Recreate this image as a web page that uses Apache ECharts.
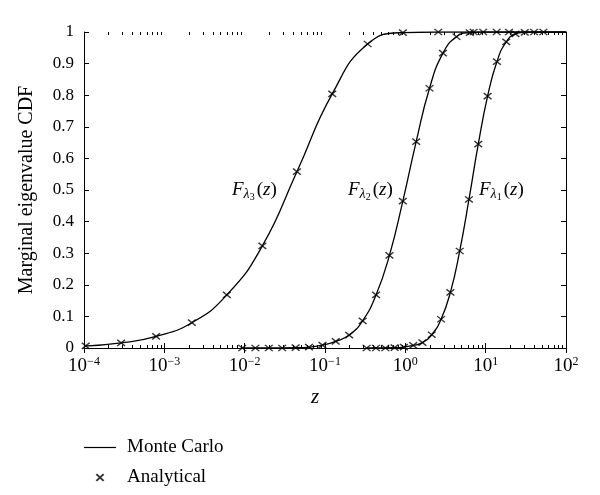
<!DOCTYPE html>
<html>
<head>
<meta charset="utf-8">
<script src="https://cdn.jsdelivr.net/npm/echarts@6/dist/echarts.min.js"></script>
<style>html,body{margin:0;padding:0;background:#fff}#c{width:600px;height:495px}</style>
</head>
<body>
<div id="c"></div>
<script>
// ---- data ----
// Analytical markers
const anZ3 = [1.05e-4, 2.9e-4, 7.9e-4, 2.2e-3, 6.0e-3, 1.66e-2, 4.47e-2, 0.123, 0.339, 0.933, 2.57, 7.08, 19.5];
const anF3 = [0.007, 0.016, 0.037, 0.080, 0.168, 0.323, 0.558, 0.804, 0.962, 0.998, 1.0, 1.0, 1.0];
const anZ2 = [0.00933, 0.0136, 0.0200, 0.0293, 0.0431, 0.0632, 0.0929, 0.136, 0.200, 0.294, 0.432, 0.634, 0.931, 1.365, 2.00, 2.94, 4.33, 6.35, 9.31, 13.7];
const anF2 = [0, 0, 0, 0, 0.001, 0.003, 0.009, 0.021, 0.041, 0.086, 0.168, 0.293, 0.465, 0.653, 0.822, 0.933, 0.985, 0.998, 1.0, 1.0];
const anZ1 = [0.330, 0.431, 0.564, 0.735, 0.959, 1.253, 1.633, 2.133, 2.786, 3.639, 4.753, 6.194, 8.091, 10.57, 13.80, 18.03, 23.50, 30.69, 40.09, 52.36];
const anF1 = [0, 0, 0, 0.001, 0.003, 0.008, 0.017, 0.042, 0.091, 0.176, 0.307, 0.470, 0.645, 0.797, 0.906, 0.969, 0.994, 0.999, 1.0, 1.0];
// Monte Carlo curves
const mcZ3 = [1.0e-4, 2.9e-4, 7.9e-4, 2.2e-3, 6.0e-3, 1.66e-2, 4.47e-2, 0.123, 0.339, 0.933, 2.57, 7.08, 19.5, 100];
const mcF3 = [0.006, 0.016, 0.037, 0.080, 0.168, 0.323, 0.558, 0.804, 0.962, 0.998, 1.0, 1.0, 1.0, 1.0];
const mcZ2 = [0.00933, 0.0200, 0.0431, 0.0632, 0.0929, 0.136, 0.200, 0.294, 0.432, 0.634, 0.931, 1.365, 2.00, 2.94, 4.33, 6.35, 9.31, 13.7, 100];
const mcF2 = [0, 0, 0.001, 0.003, 0.009, 0.021, 0.041, 0.086, 0.168, 0.293, 0.465, 0.653, 0.822, 0.933, 0.985, 0.998, 1.0, 1.0, 1.0];
const mcZ1 = [0.330, 0.735, 0.959, 1.253, 1.633, 2.133, 2.786, 3.639, 4.753, 6.194, 8.091, 10.57, 13.80, 18.03, 23.50, 30.69, 40.09, 100];
const mcF1 = [0, 0.001, 0.003, 0.008, 0.017, 0.042, 0.091, 0.176, 0.307, 0.470, 0.645, 0.797, 0.906, 0.969, 0.994, 0.999, 1.0, 1.0];
// axis ticks
const xDecadeExps = [-4, -3, -2, -1, 0, 1, 2];
const xMinorMult = [2, 3, 4, 5, 6, 7, 8, 9];
const seriesNames = ['Monte Carlo', 'Analytical'];

const FONT = 'Liberation Serif';
const pair = (zs, fs) => zs.map((z, i) => [z, fs[i]]);
const minorTicks = [];
xDecadeExps.slice(0, -1).forEach(e => xMinorMult.forEach(m => minorTicks.push([m * Math.pow(10, e), 0])));
const XPATH = 'path://M0,0M10,10M2.4,2.6L7.6,7.4M7.6,2.6L2.4,7.4';
const LINEICON = 'path://M0,0M32,14M0,6.4L32,6.4L32,7.6L0,7.6Z';
const fmtExp = e => (e < 0 ? '\u2212' + (-e) : String(e));

const lineS = (data) => ({
  type: 'line', name: seriesNames[0], data, symbol: 'none', smooth: 0.5,
  lineStyle: { color: '#000', width: 1.3 }, itemStyle: { color: '#000' }, z: 2, silent: true
});
const markS = (data) => ({
  type: 'scatter', name: seriesNames[1], data, symbol: XPATH, symbolSize: [15, 13], clip: false,
  itemStyle: { color: 'rgba(0,0,0,0)', borderColor: '#000', borderWidth: 1.4 }, z: 3, silent: true
});

const chart = echarts.init(document.getElementById('c'), null, { renderer: 'canvas' });
const tickStyle = { inside: true, length: 5, lineStyle: { color: '#000', width: 1 } };
chart.setOption({
  backgroundColor: '#fff',
  animation: false,
  textStyle: { fontFamily: FONT, color: '#000' },
  grid: { left: 84, right: 34, top: 32, bottom: 147, containLabel: false },
  xAxis: [{
    type: 'log', logBase: 10, min: 1e-4, max: 100, interval: 1, position: 'bottom',
    axisLine: { show: true, lineStyle: { color: '#000', width: 1 } },
    axisTick: tickStyle, splitLine: { show: false }, minorTick: { show: false },
    axisLabel: {
      margin: 8,
      formatter: v => '{b|10}{s|' + fmtExp(Math.round(Math.log10(v))) + '}',
      rich: {
        b: { fontFamily: FONT, fontSize: 19, color: '#000' },
        s: { fontFamily: FONT, fontSize: 12, color: '#000', padding: [0, 0, 8, 0] }
      }
    }
  }, {
    type: 'log', logBase: 10, min: 1e-4, max: 100, interval: 1, position: 'top',
    axisLine: { show: true, lineStyle: { color: '#000', width: 1 } },
    axisTick: tickStyle, axisLabel: { show: false }, splitLine: { show: false }
  }],
  yAxis: [{
    type: 'value', min: 0, max: 1, interval: 0.1, position: 'left',
    name: 'Marginal eigenvalue CDF', nameLocation: 'middle', nameGap: 47,
    nameTextStyle: { fontFamily: FONT, fontSize: 20, color: '#000' },
    axisLine: { show: true, lineStyle: { color: '#000', width: 1 } },
    axisTick: tickStyle, splitLine: { show: false },
    axisLabel: { margin: 10, fontFamily: FONT, fontSize: 17, color: '#000' }
  }, {
    type: 'value', min: 0, max: 1, interval: 0.1, position: 'right',
    axisLine: { show: true, lineStyle: { color: '#000', width: 1 } },
    axisTick: tickStyle, splitLine: { show: false }, axisLabel: { show: false }
  }],
  legend: {
    orient: 'vertical', left: 84, top: 438, padding: 0, itemWidth: 32, itemHeight: 14, itemGap: 11,
    data: [{ name: seriesNames[0], icon: LINEICON }, { name: seriesNames[1] }], selectedMode: false,
    textStyle: { fontFamily: FONT, fontSize: 19, color: '#000', padding: [0, 0, 0, 6] }
  },
  series: [
    lineS(pair(mcZ3, mcF3)), lineS(pair(mcZ2, mcF2)), lineS(pair(mcZ1, mcF1)),
    markS(pair(anZ3, anF3)), markS(pair(anZ2, anF2)), markS(pair(anZ1, anF1)),
    {
      type: 'custom', data: minorTicks, silent: true, clip: false, z: 4,
      renderItem: (params, api) => {
        const v = api.value(0);
        const pb = api.coord([v, 0]), pt = api.coord([v, 1]);
        const x = Math.round(pb[0]) + 0.5;
        return { type: 'group', children: [
          { type: 'line', shape: { x1: x, y1: pb[1], x2: x, y2: pb[1] - 3 }, style: { stroke: '#000', lineWidth: 1 } },
          { type: 'line', shape: { x1: x, y1: pt[1], x2: x, y2: pt[1] + 3 }, style: { stroke: '#000', lineWidth: 1 } }
        ] };
      }
    }
  ],
  graphic: [
    { type: 'text', x: 315, y: 397, style: { text: 'z', fontFamily: FONT, fontStyle: 'italic', fontSize: 21, fill: '#000', align: 'center', verticalAlign: 'middle' } },
    ...[['3', 232], ['2', 348], ['1', 479]].map(([k, x]) => ({
      type: 'text', x, y: 190,
      style: {
        text: '{F|F}{l|\u03bb}{n|' + k + '}{p|(}{z|z}{p|)}',
        align: 'left', verticalAlign: 'middle', fill: '#000',
        rich: {
          F: { fontFamily: FONT, fontStyle: 'italic', fontSize: 19, fill: '#000' },
          l: { fontFamily: FONT, fontStyle: 'italic', fontSize: 14, fill: '#000', padding: [8, 0, 0, 0] },
          n: { fontFamily: FONT, fontSize: 10, fill: '#000', padding: [15, 2, 0, 0] },
          p: { fontFamily: FONT, fontSize: 19, fill: '#000' },
          z: { fontFamily: FONT, fontStyle: 'italic', fontSize: 19, fill: '#000' }
        }
      }
    }))
  ]
});
</script>
</body>
</html>
